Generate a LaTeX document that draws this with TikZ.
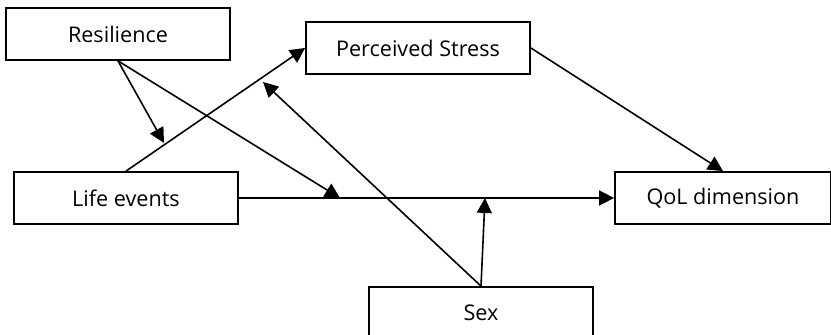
\documentclass[tikz,border=0pt]{standalone}
\usepackage{fontspec}
\setmainfont{Open Sans}
\usetikzlibrary{arrows.meta}

\begin{document}
\begin{tikzpicture}[x=0.5pt,y=-0.5pt,font=\fontsize{10.8}{13}\selectfont,
    box/.style={draw, line width=0.9pt, minimum width=112pt, minimum height=26pt, inner sep=0pt},
    link/.style={line width=0.8pt, -{Triangle[length=7.5pt,width=7.5pt]}}]
      \useasboundingbox (0,0) rectangle (831,335);
      \node (res) at (118,34) [box] {Resilience};
      \node (ps) at (418,48) [box] {Perceived Stress};
      \node (le) at (126,198) [box] {Life events};
      \node (qol) at (723,198) [box, minimum width=108pt] {QoL dimension};
      \node (sex) at (481,313) [box] {Sex};
      \coordinate (m1) at (164,143);
      \coordinate (m2) at (340,198);
      \coordinate (m3) at (263,82);
      \coordinate (m4) at (485,198);

      \draw[link] (le.north) to (ps.west);
      \draw[link] (le.east) to (qol.west);
      \draw[link] (ps.east) to (qol.north);
      \draw[link] (res.south) to (m1);
      \draw[link] (res.south) to (m2);
      \draw[link] (sex.north) to (m3);
      \draw[link] (sex.north) to (m4);
    \end{tikzpicture}
\end{document}
